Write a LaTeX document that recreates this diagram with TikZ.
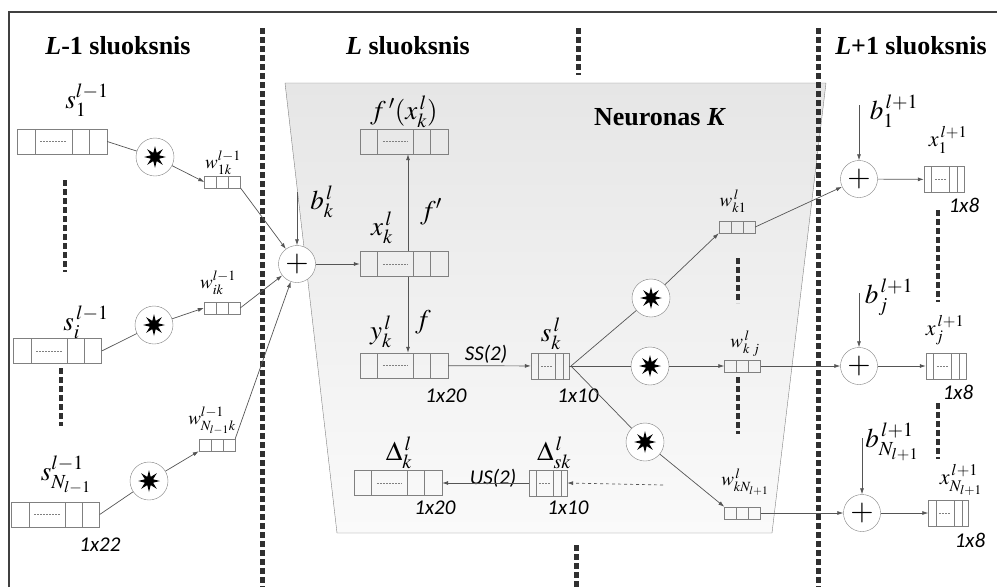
\documentclass[tikz,border=0pt]{standalone}
\usepackage{mathptmx}
\usepackage{fontspec}
\setmainfont{Liberation Serif}
\newfontfamily\calib{Carlito}
\usetikzlibrary{arrows.meta,positioning,calc,shapes.geometric}
\definecolor{edgegray}{HTML}{808080}
\definecolor{linegray}{HTML}{555555}
\definecolor{dotblack}{HTML}{303030}
\definecolor{trapgray}{HTML}{E6E6E6}
\definecolor{trapwhite}{HTML}{FAFAFA}
\newcommand{\celldiv}[1]{\foreach \f in {#1}
  \draw[edgegray] ($(path picture bounding box.north west)!\f!(path picture bounding box.north east)$) --
                  ($(path picture bounding box.south west)!\f!(path picture bounding box.south east)$);}
\newcommand{\celldash}[2]{\draw[edgegray,dash pattern=on 2pt off 1pt]
  ($(path picture bounding box.west)!#1!(path picture bounding box.east)$) --
  ($(path picture bounding box.west)!#2!(path picture bounding box.east)$);}

\begin{document}
\begin{tikzpicture}[x=1pt,y=-1pt,>=Latex,
 vec/.style={draw=edgegray,inner sep=0pt,minimum height=25pt},
 longvec/.style={vec,minimum width=88pt,path picture={\celldiv{0.2,0.61,0.8}\celldash{0.26}{0.55}}},
 shortvec/.style={vec,minimum width=38pt,minimum height=26pt,path picture={\celldiv{0.19,0.63,0.84}\celldash{0.27}{0.56}}},
 wvec/.style={vec,minimum width=36pt,minimum height=12pt,path picture={\celldiv{0.333,0.667}}},
 conv/.style={circle,draw=edgegray,fill=white,minimum size=38pt,inner sep=0pt,
   path picture={\node[star,star points=8,star point ratio=2.5,fill=black,inner sep=0pt,minimum size=22pt]
   at (path picture bounding box.center) {};}},
 sumnode/.style={circle,draw=edgegray,fill=white,minimum size=37pt,inner sep=0pt,font=\fontsize{30}{30}\selectfont},
 arr/.style={draw=linegray,line width=0.7pt,-{Latex[length=6pt,width=4pt]}},
 wire/.style={draw=linegray,line width=0.7pt},
 sep/.style={draw=dotblack,line width=5pt,dash pattern=on 6pt off 3pt},
 title/.style={inner sep=0pt,font=\bfseries\fontsize{26}{28}\selectfont},
 lab/.style={inner sep=0pt,font=\fontsize{27}{29}\selectfont},
 wlab/.style={inner sep=0pt,font=\fontsize{19}{21}\selectfont},
 dimlab/.style={inner sep=0pt,font=\calib\itshape\fontsize{21}{23}\selectfont}]
\useasboundingbox (0,0) rectangle (997,587);
% frame and layer L
\draw[black!75,line width=1.5pt] (9,587) -- (9,12) -- (997,12);
\path[draw=edgegray,top color=trapgray,bottom color=trapwhite]
  (285,83) -- (826,83) -- (772,533) -- (337,533) -- cycle;
\draw[sep] (262,28) -- (262,587);
\draw[sep] (818,28) -- (818,587);
\draw[sep] (578,28) -- (578,75);
\draw[sep] (576,545) -- (576,587);
\node[title] (tlprev) at (118,46) {\textit{L}-1 sluoksnis};
\node[title] (tlcur) at (408,46) {\textit{L} sluoksnis};
\node[title] (tlnext) at (911,46) {\textit{L}+1 sluoksnis};
\node[title] (neur) at (660,117) {Neuronas \textit{K}};

% layer L-1
\node[longvec,minimum width=90pt] (s1) at (62,141.5) {};
\node[longvec] (si) at (57.5,351) {};
\node[longvec] (sN) at (55.5,514.5) {};
\node[conv] (c1) at (155,157) {};
\node[conv] (c2) at (154,325) {};
\node[conv] (c3) at (149,481) {};
\node[wvec] (w1) at (222.5,182) {};
\node[wvec] (w2) at (222,308) {};
\node[wvec] (w3) at (217,445) {};
\node[lab] (ls1) at (87,100) {$s_1^{l-1}$};
\node[lab] (lsi) at (86,322) {$s_i^{\,l-1}$};
\node[lab] (lsN) at (66,475) {$s_{N_{l-1}}^{l-1}$};
\node[wlab] (lw1) at (223,163) {$w_{1k}^{l-1}$};
\node[wlab] (lw2) at (218,283) {$w_{ik}^{l-1}$};
\node[wlab] (lw3) at (212,421) {$w_{N_{l-1}k}^{l-1}$};
\node[dimlab] (d22) at (100,545) {1x22};
\draw[sep,line width=4.5pt] (65,180) -- (65,272);
\draw[sep,line width=4.5pt] (61,368) -- (61,426);
\draw[wire] (s1.east) -- (c1);
\draw[wire] (si.east) -- (c2);
\draw[wire] (sN.east) -- (c3);
\draw[arr] (c1) -- (w1.west);
\draw[arr] (c2) -- (w2.west);
\draw[arr] (c3) -- (w3.south west);

% layer L
\node[sumnode] (sum) at (297,264) {$+$};
\coordinate (bk) at (297,192);
\node[lab] (lbk) at (322,202) {$b_k^{\,l}$};
\node[longvec] (fx) at (404,141.5) {};
\node[longvec] (xk) at (404,264) {};
\node[longvec] (yk) at (404,365.5) {};
\node[shortvec] (sk) at (550,366) {};
\node[longvec] (dk) at (398,483) {};
\node[shortvec] (dsk) at (548,483) {};
\node[lab] (lfx) at (404,112) {$f\,'(x_k^{\,l})$};
\node[lab] (lxk) at (382,228) {$x_k^{\,l}$};
\node[lab] (lfd) at (431,212) {$f'$};
\node[lab] (lyk) at (381,332) {$y_k^{\,l}$};
\node[lab] (lf) at (423,322) {$f$};
\node[lab] (lsk) at (551,334) {$s_k^{\,l}$};
\node[lab] (ldk) at (399,453) {$\Delta_k^{\,l}$};
\node[lab] (ldsk) at (554,453) {$\Delta_{sk}^{\,l}$};
\node[dimlab] (d20a) at (446,396) {1x20};
\node[dimlab] (d10a) at (578,396) {1x10};
\node[dimlab] (d20b) at (435,508) {1x20};
\node[dimlab] (d10b) at (568,508) {1x10};
\node[dimlab] (lss) at (486,354) {SS(2)};
\node[dimlab] (lus) at (493,478) {US(2)};
\draw[arr] (w1.south east) -- (sum);
\draw[arr] (w2.east) -- (sum);
\draw[arr] (w3.north east) -- (sum);
\draw[arr] (bk) -- (sum);
\draw[arr] (sum) -- (xk);
\draw[arr] ([xshift=4pt]xk.north) -- ([xshift=4pt]fx.south);
\draw[arr] ([xshift=4pt]xk.south) -- ([xshift=4pt]yk.north);
\draw[arr] (yk) -- (sk);
\draw[arr] (dsk) -- (dk);
\coordinate (errin) at (663,485);
\draw[arr,dashed] (errin) -- (dsk.east);

% neurons K
\node[conv] (k1) at (651,298) {};
\node[conv] (k2) at (650,366) {};
\node[conv] (k3) at (645,442) {};
\node[wvec] (wk1) at (737,227) {};
\node[wvec] (wkj) at (742.5,366) {};
\node[wvec] (wkN) at (742.5,513) {};
\node[wlab] (lwk1) at (733,201) {$w_{k1}^{\,l}$};
\node[wlab] (lwkj) at (745,344) {$w_{k\;j}^{\,l}$};
\node[wlab] (lwkN) at (745,482) {$w_{kN_{l+1}}^{\,l}$};
\draw[sep,line width=4.5pt] (738,258) -- (738,303);
\draw[sep,line width=4.5pt] (738,377) -- (738,434);
\coordinate (fan) at (571,366);
\draw[wire] (sk.east) -- (fan);
\draw[wire] (fan) -- (k1);
\draw[wire] (fan) -- (k2);
\draw[wire] (fan) -- (k3);
\draw[arr] (k1) -- (wk1.south west);
\draw[arr] (k2) -- (wkj.west);
\draw[arr] (k3) -- (wkN.north west);

% layer L+1
\node[sumnode] (p1) at (859,179) {$+$};
\node[sumnode] (pj) at (859,366) {$+$};
\node[sumnode] (pN) at (862,513) {$+$};
\coordinate (b1) at (859,105);
\coordinate (bj) at (859,293);
\coordinate (bN) at (862,438);
\node[shortvec,minimum width=40pt] (x1) at (944,179.5) {};
\node[shortvec,minimum width=40pt] (xj) at (946,366) {};
\node[shortvec,minimum width=40pt] (xN) at (948.5,513) {};
\node[lab] (lb1) at (894,111) {$b_1^{\,l+1}$};
\node[lab] (lbj) at (889,297) {$b_j^{\,l+1}$};
\node[lab] (lbN) at (892,442) {$b_{N_{l+1}}^{\,l+1}$};
\node[wlab,font=\fontsize{22}{24}\selectfont] (lx1) at (948,140) {$x_1^{\,l+1}$};
\node[wlab,font=\fontsize{22}{24}\selectfont] (lxj) at (945,330) {$x_j^{\,l+1}$};
\node[wlab,font=\fontsize{22}{24}\selectfont] (lxN) at (961,480) {$x_{N_{l+1}}^{\,l+1}$};
\node[dimlab] (d8a) at (964,205) {1x8};
\node[dimlab] (d8b) at (958,392) {1x8};
\node[dimlab] (d8c) at (970,540) {1x8};
\draw[sep,line width=4.5pt] (938,210) -- (938,302);
\draw[sep,line width=4.5pt] (938,403) -- (938,459);
\draw[arr] (wk1.east) -- (p1);
\draw[arr] (wkj) -- (pj);
\draw[arr] (wkN) -- (pN);
\draw[arr] (b1) -- (p1);
\draw[arr] (bj) -- (pj);
\draw[arr] (bN) -- (pN);
\draw[arr] (p1) -- (x1);
\draw[arr] (pj) -- (xj);
\draw[arr] (pN) -- (xN);
\end{tikzpicture}
\end{document}
